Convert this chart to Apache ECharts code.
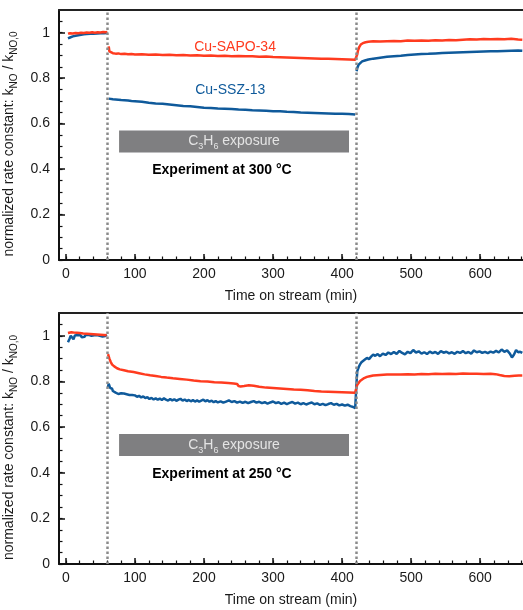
<!DOCTYPE html>
<html>
<head>
<meta charset="utf-8">
<script src="https://cdn.jsdelivr.net/npm/echarts@6/dist/echarts.min.js"></script>
<style>html,body{margin:0;padding:0;background:#fff}#c{width:523px;height:610px}</style>
</head>
<body>
<div id="c"></div>
<script>
// ---------- tick labels ----------
const xMajorTicks = [0, 100, 200, 300, 400, 500, 600];
const xMinorTicks = [0, 20, 40, 60, 80, 100, 120, 140, 160, 180, 200, 220, 240, 260, 280, 300, 320, 340, 360, 380, 400, 420, 440, 460, 480, 500, 520, 540, 560, 580, 600, 620, 640, 660];
const yMajorTicks = [0, 0.2, 0.4, 0.6, 0.8, 1];
const yMinorTicks = [0, 0.05, 0.1, 0.15, 0.2, 0.25, 0.3, 0.35, 0.4, 0.45, 0.5, 0.55, 0.6, 0.65, 0.7, 0.75, 0.8, 0.85, 0.9, 0.95, 1, 1.05];
const exposureStartEnd = [60, 420];
const exposureBar = [77, 410, 0.473, 0.57];

// ---------- series values: [time (min), k_NO/k_NO,0] ----------
const sapo300 = [[3,0.996],[6,0.998],[10,0.997],[14,0.999],[18,0.998],[22,1.0],[26,0.999],[30,1.001],[34,1.0],[38,1.002],[42,1.0],[46,1.002],[50,1.001],[54,1.003],[58,1.002],[60,1.003],[61,null],
[62,0.94],[63,0.918],[65,0.912],[68,0.91],[72,0.908],[76,0.909],[80,0.906],[85,0.907],[90,0.905],[95,0.906],[100,0.904],[110,0.905],[120,0.903],[130,0.904],[140,0.902],[150,0.903],[160,0.901],[170,0.902],[180,0.9],[190,0.901],[200,0.899],[210,0.9],[220,0.898],[230,0.899],[240,0.897],[250,0.898],[260,0.896],[270,0.897],[280,0.894],[290,0.895],[300,0.893],[310,0.892],[320,0.891],[330,0.89],[340,0.889],[350,0.888],[360,0.887],[370,0.886],[380,0.885],[390,0.884],[400,0.883],[410,0.882],[419,0.881],
[421,0.888],[422,0.905],[423,0.922],[425,0.938],[427,0.948],[430,0.954],[434,0.958],[438,0.96],[445,0.962],[455,0.961],[465,0.963],[475,0.964],[485,0.963],[495,0.966],[505,0.965],[515,0.966],[525,0.965],[535,0.967],[545,0.966],[555,0.968],[565,0.967],[575,0.969],[585,0.971],[595,0.97],[605,0.972],[615,0.971],[625,0.972],[635,0.971],[645,0.973],[655,0.97],[661,0.969]];

const ssz300 = [[3,0.975],[6,0.979],[10,0.984],[14,0.987],[18,0.989],[22,0.991],[26,0.993],[30,0.994],[35,0.995],[40,0.996],[45,0.997],[50,0.998],[55,0.998],[60,0.999],[61,null],
[62,0.71],[64,0.708],[68,0.707],[72,0.706],[76,0.705],[80,0.704],[85,0.703],[90,0.702],[95,0.7],[100,0.699],[110,0.696],[120,0.692],[130,0.689],[140,0.687],[150,0.684],[160,0.681],[170,0.678],[180,0.676],[190,0.673],[200,0.67],[210,0.669],[220,0.667],[230,0.666],[240,0.664],[250,0.662],[260,0.661],[270,0.659],[280,0.658],[290,0.657],[300,0.655],[310,0.654],[320,0.652],[330,0.651],[340,0.649],[350,0.648],[360,0.647],[370,0.646],[380,0.645],[390,0.644],[400,0.643],[410,0.642],[419,0.64],[420,null],
[421,0.83],[422,0.845],[424,0.86],[426,0.868],[429,0.874],[433,0.878],[438,0.882],[445,0.886],[455,0.89],[465,0.894],[475,0.897],[485,0.899],[495,0.902],[505,0.904],[515,0.906],[525,0.907],[535,0.909],[545,0.911],[555,0.912],[565,0.913],[575,0.914],[585,0.915],[595,0.916],[605,0.917],[615,0.918],[625,0.919],[635,0.92],[645,0.921],[655,0.922],[661,0.921]];

const sapo250 = [[3,1.012],[5,1.018],[8,1.016],[12,1.014],[16,1.013],[20,1.012],[25,1.01],[30,1.009],[35,1.008],[40,1.007],[45,1.006],[50,1.005],[55,1.004],[59,1.003],[60.5,null],
[61,0.92],[62,0.912],[63,0.9],[65,0.885],[67,0.874],[70,0.866],[74,0.858],[78,0.853],[84,0.849],[90,0.845],[98,0.841],[106,0.836],[114,0.831],[122,0.827],[130,0.824],[138,0.82],[146,0.817],[155,0.814],[165,0.811],[175,0.808],[185,0.804],[195,0.801],[205,0.8],[215,0.797],[225,0.795],[235,0.793],[243,0.791],[248,0.789],[250,0.78],[253,0.778],[258,0.78],[265,0.783],[272,0.781],[280,0.777],[290,0.773],[300,0.771],[310,0.769],[320,0.767],[330,0.765],[340,0.764],[350,0.761],[360,0.758],[370,0.756],[380,0.755],[390,0.754],[400,0.753],[410,0.752],[419,0.75],
[420,0.752],[421,0.776],[422,0.786],[424,0.794],[426,0.802],[428,0.808],[432,0.815],[436,0.82],[440,0.823],[445,0.826],[455,0.828],[465,0.83],[475,0.831],[485,0.83],[495,0.832],[505,0.831],[515,0.833],[525,0.832],[535,0.834],[545,0.833],[555,0.834],[565,0.833],[575,0.835],[585,0.834],[595,0.834],[605,0.833],[615,0.834],[622,0.832],[628,0.828],[635,0.824],[642,0.823],[650,0.825],[656,0.826],[661,0.826]];

const ssz250 = [[3,0.972],[5,0.985],[7,1.0],[9,0.992],[11,0.985],[13,1.002],[15,0.995],[17,1.004],[19,0.997],[21,1.003],[23,0.994],[25,1.001],[27,0.996],[29,1.005],[31,0.998],[33,1.004],[35,0.996],[37,1.0],[39,0.993],[41,1.002],[43,0.997],[45,1.003],[47,0.995],[49,1.0],[51,1.004],[53,0.997],[55,1.002],[57,0.999],[59,1.005],[60.5,null],
[61,0.775],[62,0.79],[63,0.785],[64,0.772],[65,0.778],[66,0.764],[67,0.768],[68,0.758],[70,0.762],[72,0.751],[74,0.755],[76,0.745],[78,0.752],[80,0.748],[82,0.742],[84,0.747],[86,0.739],[88,0.744],[90,0.748],[92,0.741],[94,0.736],[96,0.741],[98,0.735],[100,0.739],[103,0.733],[106,0.737],[109,0.73],[112,0.734],[115,0.727],[118,0.731],[121,0.723],[124,0.728],[127,0.721],[130,0.726],[133,0.72],[136,0.725],[139,0.719],[142,0.726],[145,0.72],[148,0.716],[151,0.723],[154,0.717],[157,0.722],[160,0.715],[163,0.72],[166,0.724],[169,0.716],[172,0.721],[175,0.714],[178,0.719],[181,0.713],[184,0.718],[187,0.712],[190,0.717],[193,0.711],[196,0.716],[199,0.72],[202,0.713],[205,0.718],[208,0.711],[211,0.716],[214,0.709],[217,0.714],[220,0.708],[224,0.713],[228,0.707],[232,0.712],[236,0.717],[240,0.71],[244,0.714],[248,0.707],[252,0.712],[256,0.706],[260,0.711],[264,0.705],[268,0.71],[272,0.714],[276,0.707],[280,0.711],[284,0.705],[288,0.709],[292,0.703],[296,0.708],[300,0.712],[304,0.705],[308,0.709],[312,0.702],[316,0.707],[320,0.701],[324,0.706],[328,0.71],[332,0.703],[336,0.707],[340,0.7],[344,0.705],[348,0.699],[352,0.704],[356,0.708],[360,0.7],[364,0.704],[368,0.697],[372,0.702],[376,0.696],[380,0.701],[384,0.705],[388,0.698],[392,0.702],[396,0.695],[400,0.699],[404,0.694],[408,0.698],[412,0.692],[416,0.688],[419,0.683],
[420,0.69],[421,0.8],[422,0.845],[424,0.862],[426,0.875],[428,0.884],[430,0.889],[433,0.896],[436,0.903],[439,0.898],[442,0.909],[445,0.918],[448,0.912],[451,0.92],[455,0.911],[459,0.922],[463,0.916],[467,0.927],[471,0.92],[475,0.929],[479,0.921],[483,0.934],[487,0.925],[491,0.919],[495,0.93],[499,0.924],[503,0.938],[507,0.927],[511,0.932],[515,0.922],[519,0.928],[523,0.92],[527,0.931],[531,0.924],[535,0.929],[539,0.921],[543,0.933],[547,0.926],[551,0.93],[555,0.923],[559,0.928],[563,0.921],[567,0.93],[571,0.925],[575,0.933],[579,0.924],[583,0.929],[587,0.922],[591,0.936],[595,0.928],[599,0.932],[603,0.925],[607,0.93],[611,0.924],[615,0.931],[619,0.926],[623,0.934],[627,0.927],[631,0.94],[635,0.93],[639,0.936],[643,0.922],[646,0.905],[649,0.918],[652,0.938],[655,0.928],[658,0.93],[661,0.925]];

const panels = [
  {red: sapo300, blue: ssz300, experiment: 'Experiment at 300 °C', redName: 'Cu-SAPO-34', blueName: 'Cu-SSZ-13', redLabel: [245, 0.938], blueLabel: [238, 0.749], expLabel: [226, 0.397]},
  {red: sapo250, blue: ssz250, experiment: 'Experiment at 250 °C', redName: 'Cu-SAPO-34', blueName: 'Cu-SSZ-13', redLabel: null, blueLabel: null, expLabel: [226, 0.395]}
];

// ---------- styling ----------
const FONT = '"Liberation Sans", Arial, Helvetica, sans-serif';
const RED = '#ff3b1f';
const BLUE = '#0f5a9b';
const TXT = '#1a1a1a';
const X_MIN = -10, X_MAX = 662, Y_MIN = 0, Y_MAX = 1.1;

const grids = [
  {left: 59, right: 0, top: 10, height: 250, outerBoundsMode: 'none', containLabel: false},
  {left: 59, right: 0, top: 313, height: 251, outerBoundsMode: 'none', containLabel: false}
];

const xAxis = [], yAxis = [], series = [];
grids.forEach((g, gi) => {
  const base = xAxis.length;
  xAxis.push({
    type: 'value', gridIndex: gi, min: X_MIN, max: X_MAX, position: 'bottom',
    name: 'Time on stream (min)', nameLocation: 'middle', nameGap: 29,
    nameTextStyle: {fontFamily: FONT, fontSize: 14, color: TXT},
    axisLine: {show: true, onZero: false, lineStyle: {color: '#111', width: 2}},
    axisTick: {show: true, inside: true, length: 6, customValues: xMajorTicks, lineStyle: {color: '#111', width: 1.5}},
    axisLabel: {show: true, margin: 7, fontFamily: FONT, fontSize: 14, color: TXT, customValues: xMajorTicks},
    splitLine: {show: false}
  });
  xAxis.push({
    type: 'value', gridIndex: gi, min: X_MIN, max: X_MAX, position: 'bottom',
    axisLine: {show: false, onZero: false},
    axisTick: {show: true, inside: true, length: 3.5, customValues: xMinorTicks, lineStyle: {color: '#111', width: 1.2}},
    axisLabel: {show: false}, splitLine: {show: false}
  });
  xAxis.push({
    type: 'value', gridIndex: gi, min: X_MIN, max: X_MAX, position: 'top',
    axisLine: {show: true, onZero: false, lineStyle: {color: '#222', width: 2}},
    axisTick: {show: false}, axisLabel: {show: false}, splitLine: {show: false}
  });
  const ybase = yAxis.length;
  yAxis.push({
    type: 'value', gridIndex: gi, min: Y_MIN, max: Y_MAX, position: 'left',
    name: '{a|normalized rate constant: k}{s|NO}{a| / k}{s|NO,0}',
    nameLocation: 'middle', nameGap: 29, nameRotate: 90,
    nameTextStyle: {fontFamily: FONT, color: TXT, padding: [0, 18, 0, 0], rich: {
      a: {fontFamily: FONT, fontSize: 14, color: TXT, lineHeight: 20},
      s: {fontFamily: FONT, fontSize: 10, color: TXT, lineHeight: 11, verticalAlign: 'bottom'}
    }},
    axisLine: {show: true, onZero: false, lineStyle: {color: '#111', width: 2}},
    axisTick: {show: true, inside: true, length: 6, customValues: yMajorTicks, lineStyle: {color: '#111', width: 1.5}},
    axisLabel: {show: true, margin: 9, fontFamily: FONT, fontSize: 14, color: TXT, customValues: yMajorTicks,
      formatter: v => String(Math.round(v * 10) / 10)},
    splitLine: {show: false}
  });
  yAxis.push({
    type: 'value', gridIndex: gi, min: Y_MIN, max: Y_MAX, position: 'left',
    axisLine: {show: false, onZero: false},
    axisTick: {show: true, inside: true, length: 3.5, customValues: yMinorTicks, lineStyle: {color: '#111', width: 1.2}},
    axisLabel: {show: false}, splitLine: {show: false}
  });

  const p = panels[gi];
  const mpData = [{
    coord: p.expLabel, symbolSize: 0,
    label: {show: true, position: 'inside', formatter: p.experiment, fontFamily: FONT, fontSize: 14, fontWeight: 'bold', color: '#000'}
  }];
  series.push({
    type: 'line', xAxisIndex: base, yAxisIndex: ybase, data: p.blue,
    showSymbol: false, connectNulls: false, lineStyle: {color: BLUE, width: 2.5}, itemStyle: {color: BLUE},
    z: 3,
    markArea: {
      silent: true,
      itemStyle: {color: '#7f7f81'},
      label: {show: true, position: 'inside', formatter: '{m|C}{s|3}{m|H}{s|6}{m| exposure}',
        rich: {
          m: {fontFamily: FONT, fontSize: 14, color: '#e4e4e4', lineHeight: 20},
          s: {fontFamily: FONT, fontSize: 9, color: '#e4e4e4', lineHeight: 10, verticalAlign: 'bottom'}
        }},
      data: [[{xAxis: exposureBar[0], yAxis: exposureBar[3]}, {xAxis: exposureBar[1], yAxis: exposureBar[2]}]]
    },
    markPoint: {silent: true, symbol: 'circle', symbolSize: 0, data: mpData.concat(p.blueLabel ? [{
      coord: p.blueLabel, symbolSize: 0,
      label: {show: true, position: 'inside', formatter: p.blueName, fontFamily: FONT, fontSize: 14, color: BLUE}
    }] : [])}
  });
  series.push({
    type: 'line', xAxisIndex: base, yAxisIndex: ybase, data: p.red,
    showSymbol: false, connectNulls: false, lineStyle: {color: RED, width: 2.5}, itemStyle: {color: RED},
    z: 4,
    markLine: {
      silent: true, symbol: ['none', 'none'], animation: false,
      label: {show: false},
      lineStyle: {color: '#8a8a8a', width: 2.5, type: [2.5, 2.5]},
      data: exposureStartEnd.map(t => ({xAxis: t}))
    },
    markPoint: p.redLabel ? {silent: true, symbolSize: 0, data: [{
      coord: p.redLabel, symbolSize: 0,
      label: {show: true, position: 'inside', formatter: p.redName, fontFamily: FONT, fontSize: 14, color: RED}
    }]} : undefined
  });
});

const chart = echarts.init(document.getElementById('c'), null, {renderer: 'canvas'});
chart.setOption({
  animation: false,
  backgroundColor: '#fff',
  grid: grids,
  xAxis: xAxis,
  yAxis: yAxis,
  series: series
});
</script>
</body>
</html>
